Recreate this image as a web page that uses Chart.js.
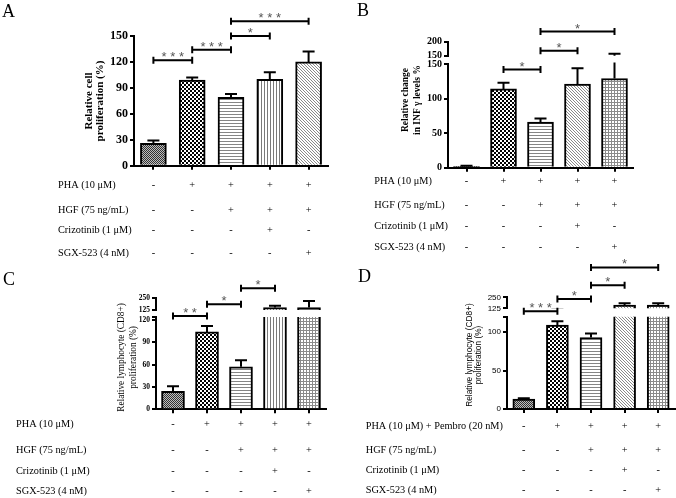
<!DOCTYPE html>
<html><head><meta charset="utf-8">
<script src="https://cdn.jsdelivr.net/npm/chart.js@4"></script>
<style>
html,body{margin:0;padding:0;background:#fff;}
#wrap{position:relative;width:676px;height:498px;overflow:hidden;background:#fff;}
#wrap canvas{position:absolute;}
</style></head><body><div id="wrap"></div>
<script>
// ---------------- DATA ----------------
const groups = ['Control', 'PHA', 'PHA+HGF', 'PHA+HGF+Crizotinib', 'PHA+HGF+SGX-523'];
const rowLabels = ['PHA (10 μM)', 'HGF (75 ng/mL)', 'Crizotinib (1 μM)', 'SGX-523 (4 nM)'];
const rowLabelsD = ['PHA (10 μM) + Pembro (20 nM)', 'HGF (75 ng/mL)', 'Crizotinib (1 μM)', 'SGX-523 (4 nM)'];
const phaSigns  = ['-', '+', '+', '+', '+'];
const hgfSigns  = ['-', '-', '+', '+', '+'];
const crizSigns = ['-', '-', '-', '+', '-'];
const sgxSigns  = ['-', '-', '-', '-', '+'];

const valuesA = [26, 99, 79, 100, 120];
const errorsA = [3, 3, 4, 8, 12];
const valuesB = [2, 114, 66, 121, 129];
const errorsB = [1, 9, 5, 23, 28];
const valuesC = [24, 104, 57, 150, 150];
const errorsC = [7, 8, 9, 20, 69];
const valuesD = [13, 109, 93, 162, 162];
const errorsD = [1, 5, 5, 20, 20];

// significance brackets: [from group, to group, height (axis units), label]
const sigA = [[0, 1, 122, '***'], [1, 2, 134, '***'], [2, 3, 150, '*'], [2, 4, 167, '***']];
const sigB = [[1, 2, 142, '*'], [2, 3, 169, '*'], [2, 4, 197, '*']];
const sigC = [[0, 1, 125.5, '**'], [1, 2, 141, '*'], [2, 3, 162.5, '*']];
const sigD = [[0, 1, 127, '***'], [1, 2, 143, '*'], [2, 3, 161, '*'], [2, 4, 184, '*']];

// tick values
const ticksA = [0, 30, 60, 90, 120, 150];
const ticksB = [0, 50, 100, 150];
const ticksBUpper = [150, 200];
const ticksC = [0, 30, 60, 90, 120, 124];
const ticksCUpper = [125, 250];
const ticksD = [0, 50, 100, 120];
const ticksDUpper = [125, 250];

// ---------------- PATTERNS ----------------
function makePattern(type) {
  const c = document.createElement('canvas');
  const g = c.getContext('2d');
  const px = (x, y, col) => { g.fillStyle = col; g.fillRect(x, y, 1, 1); };
  if (type === 'fine') {
    c.width = c.height = 2; g.fillStyle = '#bdbdbd'; g.fillRect(0, 0, 2, 2);
    px(0, 0, '#333'); px(1, 1, '#333');
  } else if (type === 'checker') {
    c.width = c.height = 4; g.fillStyle = '#fff'; g.fillRect(0, 0, 4, 4);
    g.fillStyle = '#000'; g.fillRect(0, 0, 2, 2); g.fillRect(2, 2, 2, 2);
  } else if (type === 'hline') {
    c.width = 1; c.height = 3; g.fillStyle = '#fff'; g.fillRect(0, 0, 1, 3); px(0, 0, '#858585');
  } else if (type === 'vline') {
    c.width = 3; c.height = 1; g.fillStyle = '#fff'; g.fillRect(0, 0, 3, 1); px(0, 0, '#7a7a7a');
  } else if (type === 'diag') {
    c.width = c.height = 3; g.fillStyle = '#fff'; g.fillRect(0, 0, 3, 3);
    px(0, 0, '#8a8a8a'); px(1, 1, '#8a8a8a'); px(2, 2, '#8a8a8a');
  } else if (type === 'grid') {
    c.width = c.height = 3; g.fillStyle = '#fff'; g.fillRect(0, 0, 3, 3);
    g.fillStyle = '#8a8a8a'; g.fillRect(0, 0, 3, 1); g.fillRect(0, 0, 1, 3);
  }
  return document.createElement('canvas').getContext('2d').createPattern(c, 'repeat');
}
const P = {};
['fine', 'checker', 'hline', 'vline', 'diag', 'grid'].forEach(t => P[t] = makePattern(t));

// ---------------- PLUGINS ----------------
const errorBarPlugin = {
  id: 'errbars',
  afterDatasetsDraw(chart, args, opts) {
    const { ctx, chartArea: a, scales: { y } } = chart;
    const meta = chart.getDatasetMeta(0);
    const vals = chart.data.datasets[0].data;
    ctx.save();
    ctx.beginPath(); ctx.rect(a.left - 10, a.top - 1.5, a.right - a.left + 20, a.bottom - a.top + 1.5); ctx.clip();
    ctx.strokeStyle = '#000'; ctx.lineWidth = 2;
    meta.data.forEach((bar, i) => {
      const yb = y.getPixelForValue(vals[i]);
      const yt = y.getPixelForValue(vals[i] + opts.errors[i]);
      ctx.beginPath();
      ctx.moveTo(bar.x, yb); ctx.lineTo(bar.x, yt);
      ctx.moveTo(bar.x - opts.cap, yt); ctx.lineTo(bar.x + opts.cap, yt);
      ctx.stroke();
    });
    ctx.restore();
  }
};

const annotPlugin = {
  id: 'annot',
  afterDraw(chart, args, o) {
    if (!o.enabled) return;
    const { ctx, chartArea: a, scales: { x, y } } = chart;
    const ox = o.origin[0], oy = o.origin[1];
    ctx.save();
    // brackets
    (o.sig || []).forEach(([i1, i2, v, label]) => {
      const x1 = x.getPixelForValue(i1), x2 = x.getPixelForValue(i2), yy = y.getPixelForValue(v);
      ctx.strokeStyle = '#000'; ctx.lineWidth = 2;
      ctx.beginPath();
      ctx.moveTo(x1, yy); ctx.lineTo(x2, yy);
      ctx.moveTo(x1, yy - 3.5); ctx.lineTo(x1, yy + 3.5);
      ctx.moveTo(x2, yy - 3.5); ctx.lineTo(x2, yy + 3.5);
      ctx.stroke();
      ctx.fillStyle = '#555'; ctx.font = '13px "Liberation Sans"';
      ctx.textAlign = 'center'; ctx.textBaseline = 'alphabetic';
      ctx.fillText(label.split('').join(' '), (x1 + x2) / 2, yy + 1);
    });
    // treatment table
    ctx.fillStyle = '#000'; ctx.font = o.tableFont; ctx.textBaseline = 'middle';
    o.rows.forEach((row, r) => {
      const yy = a.bottom + o.rowOffsets[r];
      ctx.textAlign = 'left'; ctx.fillText(row.label, o.labelX - ox, yy);
      ctx.textAlign = 'center';
      row.signs.forEach((s, i) => ctx.fillText(s, x.getPixelForValue(i), yy));
    });
    // panel letter
    ctx.font = '18px "Liberation Serif"'; ctx.textAlign = 'left'; ctx.textBaseline = 'alphabetic';
    ctx.fillText(o.letter, o.letterPos[0] - ox, o.letterPos[1] - oy);
    // y title
    ctx.font = o.titleFont; ctx.textAlign = 'center'; ctx.textBaseline = 'middle';
    o.title.forEach((line, k) => {
      ctx.save();
      ctx.translate(a.left + o.titleDx[k], o.titleCy - oy);
      ctx.rotate(-Math.PI / 2);
      ctx.fillText(line, 0, 0);
      ctx.restore();
    });
    ctx.restore();
  }
};

// ---------------- BUILD ----------------
function font(family, size, weight) { return { family, size, weight: weight || 'normal' }; }

function yAxis(min, max, ticks, f, yW, hideMax) {
  return {
    min, max,
    afterBuildTicks: s => { s.ticks = ticks.map(v => ({ value: v })); },
    afterFit: s => { s.width = yW; s.paddingTop = 0; s.paddingBottom = 0; },
    ticks: { font: f, color: '#000', padding: 2, autoSkip: false,
             callback: v => (hideMax && v === max) ? '' : String(v) },
    grid: { display: true, drawOnChartArea: false, drawTicks: true, tickLength: 4, color: '#000', lineWidth: 2 },
    border: { display: true, color: '#000', width: 2 }
  };
}

// all layout coordinates below are page coordinates; converted per canvas
function makeChart(panel, seg) {
  const [px, py, W, H] = panel.rect;
  const cv = document.createElement('canvas');
  cv.width = W; cv.height = H;
  cv.style.left = px + 'px'; cv.style.top = py + 'px';
  document.getElementById('wrap').appendChild(cv);
  const isLower = seg === 'lower';
  const src = isLower ? panel.area : { left: panel.area.left, right: panel.area.right, top: panel.upper.top, bottom: panel.upper.bottom };
  const ar = { left: src.left - px, right: src.right - px, top: src.top - py, bottom: src.bottom - py };
  const yW = 40, xH = isLower ? 6 : 0;
  const axis = isLower ? panel.yLower : panel.yUpper;
  return new Chart(cv, {
    type: 'bar',
    data: {
      labels: groups,
      datasets: [{
        data: panel.values,
        backgroundColor: panel.fills.map(k => P[k]),
        borderColor: '#000', borderWidth: 2,
        barThickness: panel.barW,
        clip: 0
      }]
    },
    options: {
      responsive: false, animation: false, devicePixelRatio: 1,
      layout: { autoPadding: false,
        padding: { left: ar.left - yW, right: W - ar.right, top: ar.top, bottom: H - ar.bottom - xH } },
      plugins: {
        legend: { display: false }, tooltip: { enabled: false },
        errbars: { errors: panel.errors, cap: 6 },
        annot: Object.assign({ enabled: isLower, origin: [px, py] }, panel.annot)
      },
      scales: {
        x: isLower ? {
          offset: true,
          afterFit: s => { s.height = xH; s.paddingLeft = 0; s.paddingRight = 0; },
          ticks: { display: false },
          grid: { display: true, offset: false, drawOnChartArea: false, drawTicks: true, tickLength: 4, color: '#000', lineWidth: 2 },
          border: { display: true, color: '#000', width: 2 }
        } : { display: false, offset: true },
        y: yAxis(axis.min, axis.max, axis.ticks, panel.tickFont, yW, axis.hideMax)
      }
    },
    plugins: [errorBarPlugin, annotPlugin]
  });
}

function tableRows(labels) {
  return [
    { label: labels[0], signs: phaSigns },
    { label: labels[1], signs: hgfSigns },
    { label: labels[2], signs: crizSigns },
    { label: labels[3], signs: sgxSigns }
  ];
}

const panels = [
  {
    rect: [0, 0, 338, 262],
    area: { left: 134, right: 328, top: 36, bottom: 165.7 },
    yLower: { min: 0, max: 150, ticks: ticksA },
    values: valuesA, errors: errorsA, barW: 26,
    fills: ['fine', 'checker', 'hline', 'vline', 'diag'],
    tickFont: font('Liberation Serif', 12, 'bold'),
    annot: {
      sig: sigA, rows: tableRows(rowLabels), rowOffsets: [20, 45, 65, 88], labelX: 58,
      tableFont: '10.3px "Liberation Serif"', letter: 'A', letterPos: [2, 16.5],
      title: ['Relative cell', 'proliferation (%)'], titleDx: [-45, -33.5], titleCy: 101,
      titleFont: 'bold 11px "Liberation Serif"'
    }
  },
  {
    rect: [338, 0, 338, 262],
    area: { left: 448, right: 633, top: 64, bottom: 167.7 },
    upper: { top: 41.7, bottom: 55.7 },
    yLower: { min: 0, max: 150, ticks: ticksB },
    yUpper: { min: 150, max: 200, ticks: ticksBUpper },
    values: valuesB, errors: errorsB, barW: 26,
    fills: ['fine', 'checker', 'hline', 'diag', 'grid'],
    tickFont: font('Liberation Serif', 10, 'bold'),
    annot: {
      sig: sigB, rows: tableRows(rowLabels), rowOffsets: [14, 38, 59, 80], labelX: 374.3,
      tableFont: '10.3px "Liberation Serif"', letter: 'B', letterPos: [357, 16],
      title: ['Relative change', 'in INF γ levels %'], titleDx: [-42, -30], titleCy: 100,
      titleFont: 'bold 9.5px "Liberation Serif"'
    }
  },
  {
    rect: [0, 240, 338, 258],
    area: { left: 156, right: 326, top: 317, bottom: 409.3 },
    upper: { top: 298, bottom: 310 },
    yLower: { min: 0, max: 124, ticks: ticksC, hideMax: true },
    yUpper: { min: 125, max: 250, ticks: ticksCUpper },
    values: valuesC, errors: errorsC, barW: 23,
    fills: ['fine', 'checker', 'hline', 'vline', 'grid'],
    tickFont: font('Liberation Serif', 7.5, 'bold'),
    annot: {
      sig: sigC, rows: tableRows(rowLabels), rowOffsets: [14.7, 40.7, 61.7, 81.7], labelX: 16,
      tableFont: '10.3px "Liberation Serif"', letter: 'C', letterPos: [3, 284.5],
      title: ['Relative lymphocyte (CD8+)', 'proliferation (%)'], titleDx: [-34.5, -22.5], titleCy: 357.5,
      titleFont: '9.3px "Liberation Serif"'
    }
  },
  {
    rect: [338, 240, 338, 258],
    area: { left: 507, right: 675, top: 316.7, bottom: 409 },
    upper: { top: 297.3, bottom: 308.3 },
    yLower: { min: 0, max: 120, ticks: ticksD, hideMax: true },
    yUpper: { min: 125, max: 250, ticks: ticksDUpper },
    values: valuesD, errors: errorsD, barW: 22,
    fills: ['fine', 'checker', 'hline', 'diag', 'grid'],
    tickFont: font('Liberation Sans', 8),
    annot: {
      sig: sigD, rows: tableRows(rowLabelsD), rowOffsets: [17, 41, 61.7, 81.7], labelX: 365.7,
      tableFont: '10.3px "Liberation Serif"', letter: 'D', letterPos: [358, 281.5],
      title: ['Relative lymphocyte (CD8+)', 'proliferation (%)'], titleDx: [-37, -28], titleCy: 355,
      titleFont: '8.3px "Liberation Sans"'
    }
  }
];

panels.forEach(p => {
  makeChart(p, 'lower');
  if (p.upper) makeChart(p, 'upper');
});
</script>
</body></html>
